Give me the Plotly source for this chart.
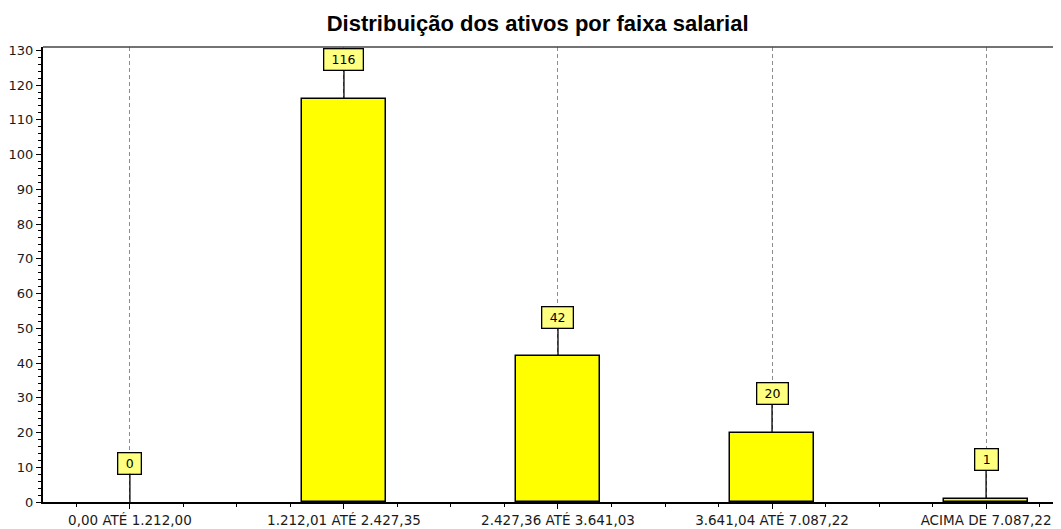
import plotly.graph_objects as go

categories = ["0,00 ATÉ 1.212,00", "1.212,01 ATÉ 2.427,35", "2.427,36 ATÉ 3.641,03",
              "3.641,04 ATÉ 7.087,22", "ACIMA DE 7.087,22"]
values = [0, 116, 42, 20, 1]
y_ticks = list(range(0, 131, 10))
title = "Distribuição dos ativos por faixa salarial"

xpos = list(range(len(categories)))
FONT = "DejaVu Sans, Verdana, sans-serif"

fig = go.Figure()
fig.add_trace(go.Bar(
    x=xpos, y=values, width=0.39,
    marker=dict(color="#ffff00",
                line=dict(color="#000000", width=[0 if v == 0 else 1.5 for v in values])),
    hoverinfo="x+y",
))

annotations = []
for x, v in zip(xpos, values):
    txt = str(v)
    annotations.append(dict(
        x=x, y=v, xref="x", yref="y", text=txt,
        showarrow=True, arrowhead=0, arrowwidth=1.3, arrowcolor="#000000",
        ax=0, ay=-39, axref="pixel", ayref="pixel",
        bgcolor="#ffff80", bordercolor="#000000", borderwidth=1.3, borderpad=2,
        width=len(txt) * 7.8 + 11, height=16,
        font=dict(family=FONT, size=12.5, color="#000000"),
    ))

fig.update_layout(
    width=1053, height=521,
    margin=dict(l=35, r=0, t=39, b=27),
    paper_bgcolor="white", plot_bgcolor="white",
    showlegend=False,
    bargap=0,
    title=dict(text="<b>" + title + "</b>", x=0.503, xanchor="center", y=0.97, yanchor="middle",
               font=dict(family="Liberation Sans, Arial, sans-serif", size=22, color="#000000")),
    annotations=annotations,
    shapes=[dict(type="line", xref="paper", yref="paper", x0=0, x1=1, y0=1, y1=1,
                 line=dict(color="#444444", width=1.5))],
    xaxis=dict(
        range=[-0.406, 4.35], tickmode="array", tickvals=xpos, ticktext=categories,
        showgrid=True, gridcolor="#8c8c8c", griddash="4px,3px", gridwidth=1,
        showline=True, linecolor="#000000", linewidth=2,
        ticks="outside", ticklen=5, tickcolor="#000000", tickwidth=1,
        minor=dict(dtick=0.25, tick0=0, ticks="outside", ticklen=3, tickcolor="#000000", showgrid=False),
        tickfont=dict(family=FONT, size=13.5, color="#1a1a1a"),
        zeroline=False, fixedrange=True,
    ),
    yaxis=dict(
        range=[0, 130.95], tickmode="array", tickvals=y_ticks,
        showgrid=False, zeroline=False,
        showline=True, linecolor="#000000", linewidth=2,
        ticks="outside", ticklen=5, tickcolor="#000000", tickwidth=1,
        minor=dict(dtick=2, tick0=0, ticks="outside", ticklen=3, tickcolor="#000000", showgrid=False),
        tickfont=dict(family=FONT, size=13, color="#1a1a1a"),
        fixedrange=True,
    ),
)

fig.write_html("out.html")
